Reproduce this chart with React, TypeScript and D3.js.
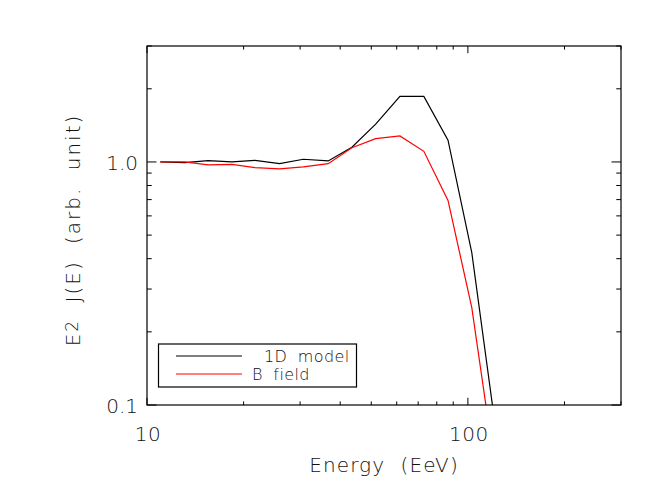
import React from "react";
import * as d3 from "d3";

const width = 664;
const height = 499;
const margin = { top: 46, right: 43, bottom: 94, left: 147 };

// energies (EeV) of the spectrum bins
const energy = [11, 13.1, 15.5, 18.4, 21.7, 25.9, 30.7, 36.7, 43.5, 51.6, 61.4, 72.9, 86.7, 102.8, 122];
// E^2 J(E), normalised
const model1D = [1.0, 0.993, 1.012, 1.0, 1.016, 0.984, 1.026, 1.01, 1.149, 1.43, 1.86, 1.86, 1.23, 0.425, 0.08];
const bField = [1.0, 1.0, 0.972, 0.978, 0.947, 0.936, 0.954, 0.984, 1.145, 1.247, 1.279, 1.106, 0.695, 0.252, 0.053];

const xTickLabels = ["10", "100"];
const yTickLabels = ["0.1", "1.0"];

const series = [
  { name: "1D model", values: model1D, color: "#000000" },
  { name: "B field", values: bField, color: "#ff0000" },
];

const font = "'DejaVu Sans', sans-serif";
const textFill = "#111";

export default function App() {
  const x0 = margin.left;
  const x1 = width - margin.right;
  const y0 = height - margin.bottom;
  const y1 = margin.top;

  const x = d3.scaleLog().domain([10, 300]).range([x0, x1]);
  const y = d3.scaleLog().domain([0.1, 3]).range([y0, y1]);

  const line = d3
    .line<number>()
    .x((_, i) => x(energy[i]))
    .y((d) => y(d));

  const isMajor = (v: number) => Math.abs(Math.log10(v) - Math.round(Math.log10(v))) < 1e-9;

  const xTicks = x.ticks();
  const yTicks = y.ticks();
  // IDL-like tick lengths: 2% of the plot size, minor half of it
  const xMaj = 0.02 * (y0 - y1);
  const yMaj = 0.02 * (x1 - x0);

  return (
    <div style={{ position: "absolute", left: 0, top: 0 }}>
      <svg width={width} height={height} style={{ display: "block", background: "#fff" }}>
        <defs>
          <clipPath id="plot">
            <rect x={x0} y={y1} width={x1 - x0} height={y0 - y1} />
          </clipPath>
        </defs>

        <g clipPath="url(#plot)">
          {series.map((s) => (
            <path key={s.name} d={line(s.values) || ""} fill="none" stroke={s.color} strokeWidth={1.2} />
          ))}
        </g>

        {/* frame */}
        <rect x={x0} y={y1} width={x1 - x0} height={y0 - y1} fill="none" stroke="#000" strokeWidth={1.2} />

        {/* x ticks, bottom and top */}
        {xTicks.map((t, i) => {
          const len = isMajor(t) ? xMaj : xMaj / 2;
          const px = x(t);
          return (
            <g key={"xt" + i} stroke="#000" strokeWidth={1}>
              <line x1={px} x2={px} y1={y0} y2={y0 - len} />
              <line x1={px} x2={px} y1={y1} y2={y1 + len} />
            </g>
          );
        })}

        {/* y ticks, left and right */}
        {yTicks.map((t, i) => {
          const len = isMajor(t) ? yMaj : yMaj / 2;
          const py = y(t);
          return (
            <g key={"yt" + i} stroke="#000" strokeWidth={1}>
              <line x1={x0} x2={x0 + len} y1={py} y2={py} />
              <line x1={x1} x2={x1 - len} y1={py} y2={py} />
            </g>
          );
        })}

        {/* tick labels */}
        {xTickLabels.map((l) => (
          <text key={l} x={x(+l) + 1} y={441} textAnchor="middle" fontFamily={font} fontSize={20} fontWeight={300} fill={textFill} letterSpacing={0.5}>
            {l}
          </text>
        ))}
        {yTickLabels.map((l) => (
          <text key={l} x={x0 - 9} y={y(+l) + 8} textAnchor="end" fontFamily={font} fontSize={20} fontWeight={300} fill={textFill}>
            {l}
          </text>
        ))}

        {/* axis titles */}
        <text
          x={(x0 + x1) / 2}
          y={472}
          textAnchor="middle"
          fontFamily={font}
          fontSize={20}
          fontWeight={300}
          fill={textFill}
          letterSpacing={1.1}
          wordSpacing={8}
        >
          Energy (EeV)
        </text>
        <text
          transform={`translate(80, 230) rotate(-90)`}
          textAnchor="middle"
          fontFamily={font}
          fontSize={20}
          fontWeight={300}
          fill={textFill}
          letterSpacing={2}
          wordSpacing={8}
        >
          E<tspan fontSize={17} dy={-2}>2</tspan>
          <tspan dy={2}> J(E) (arb. unit)</tspan>
        </text>

        {/* legend */}
        <rect x={158.5} y={344} width={198} height={43} fill="#fff" stroke="#000" strokeWidth={1.2} />
        {series.map((s, i) => (
          <g key={"lg" + i}>
            <line x1={176} x2={242} y1={356 + i * 18} y2={356 + i * 18} stroke={s.color} strokeWidth={1.2} />
            <text
              x={i === 0 ? 264 : 252}
              y={362 + i * 18}
              fontFamily={font}
              fontSize={16}
              fontWeight={300}
              fill={textFill}
              letterSpacing={0.4}
              wordSpacing={5}
            >
              {s.name}
            </text>
          </g>
        ))}
      </svg>
    </div>
  );
}
